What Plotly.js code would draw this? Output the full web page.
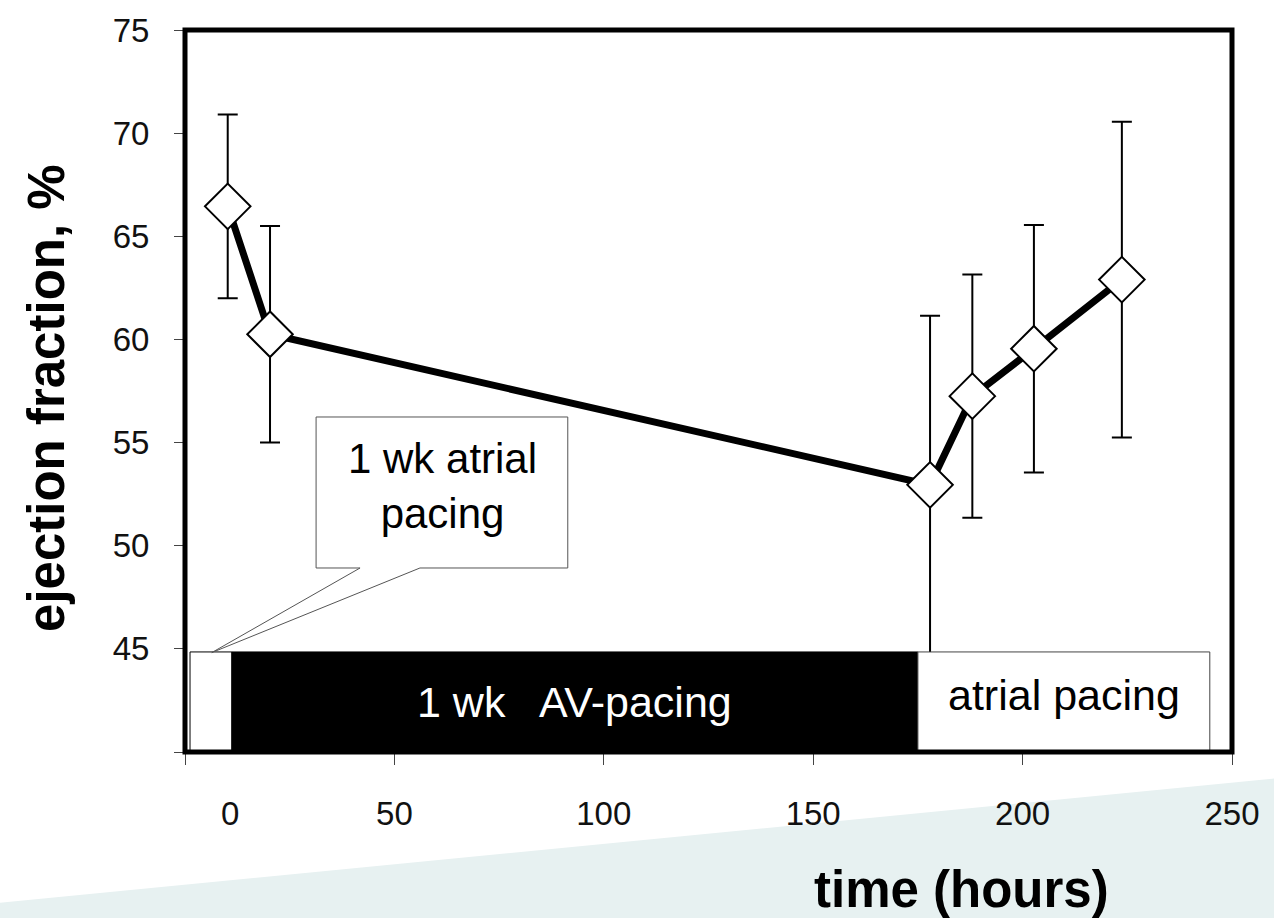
<!DOCTYPE html>
<html>
<head>
<meta charset="utf-8">
<script src="https://cdn.plot.ly/plotly-3.0.1.min.js"></script>
<style>
html,body{margin:0;padding:0;background:#fff;}
#chart{width:1274px;height:918px;}
</style>
</head>
<body>
<div id="chart"></div>
<script>
// ---- data ----
const timeHours = [10.2, 20.3, 177.9, 188.0, 202.7, 223.7];
const efMean    = [66.45, 60.25, 52.95, 57.25, 59.55, 62.9];
const efError   = [4.45, 5.25, 8.2, 5.9, 6.0, 7.65];

const xTickVals   = [0, 50, 100, 150, 200, 250];
const xTickLabels = ['', '50', '100', '150', '200', '250'];
const yTickVals   = [40, 45, 50, 55, 60, 65, 70, 75];
const yTickLabels = ['', '45', '50', '55', '60', '65', '70', '75'];

// pacing phases (hours)
const phaseStart  = [1.2, 11.2, 175.0];
const phaseEnd    = [11.2, 175.0, 244.7];
const phaseLabels = ['', '1 wk   AV-pacing', 'atrial pacing'];

const calloutText = '1 wk atrial<br>pacing';
const xTitle = 'time (hours)';
const yTitle = 'ejection fraction, %';
const zeroLabel = '0';

// ---- layout ----
const FONT = 'Liberation Sans, Arial, sans-serif';
const W = 1274, H = 918;
const margin = {l: 185, r: 42, t: 30, b: 166};
const barTop = 44.85;

const phaseFill = ['#ffffff', '#000000', '#ffffff'];
const phaseLine = ['#000000', '#000000', '#444444'];
const phaseTextColor = ['#000', '#ffffff', '#000000'];

const shapes = [];
// slide background band
shapes.push({
  type: 'path', xref: 'paper', yref: 'paper', layer: 'below',
  path: 'M -0.18,-0.2091 L 1.045,-0.036 L 1.045,-0.235 L -0.18,-0.235 Z',
  fillcolor: '#e7f1f1', line: {width: 0}
});
// pacing phase boxes
phaseStart.forEach((s, i) => {
  shapes.push({
    type: 'rect', xref: 'x', yref: 'y', layer: 'above',
    x0: s, x1: phaseEnd[i], y0: 40, y1: barTop,
    fillcolor: phaseFill[i], line: {color: phaseLine[i], width: 1}
  });
});
// callout for the first week of atrial pacing
shapes.push({
  type: 'path', xref: 'x', yref: 'y', layer: 'above',
  path: 'M 41.8,48.92 L 31.3,48.92 L 31.3,56.24 L 91.4,56.24 L 91.4,48.92 L 56.1,48.92 L 6.4,44.82 Z',
  fillcolor: '#ffffff', line: {color: '#555555', width: 1}
});
// thick frame
shapes.push({
  type: 'rect', xref: 'paper', yref: 'paper', layer: 'above',
  x0: 0, x1: 1, y0: 0, y1: 1,
  line: {color: '#000000', width: 5}, fillcolor: 'rgba(0,0,0,0)'
});

const annotations = [];
phaseLabels.forEach((t, i) => {
  if (!t) return;
  annotations.push({
    xref: 'x', yref: 'y', x: (phaseStart[i] + phaseEnd[i]) / 2, y: i === 2 ? 42.75 : 42.4,
    xanchor: 'center', yanchor: 'middle',
    text: t, showarrow: false,
    font: {family: FONT, size: 43, color: phaseTextColor[i]}
  });
});
annotations.push({
  xref: 'x', yref: 'y', x: 61.4, y: 52.9, xanchor: 'center', yanchor: 'middle',
  text: calloutText, showarrow: false,
  font: {family: FONT, size: 42, color: '#000'}
});
annotations.push({
  xref: 'x', yref: 'paper', x: 10.7, y: -0.085, xanchor: 'center', yanchor: 'middle',
  text: zeroLabel, showarrow: false,
  font: {family: FONT, size: 33, color: '#111'}
});
annotations.push({
  xref: 'paper', yref: 'paper', x: 0.742, y: -0.191, xanchor: 'center', yanchor: 'middle',
  text: '<b>' + xTitle + '</b>', showarrow: false,
  font: {family: FONT, size: 51, color: '#000'}
});
annotations.push({
  xref: 'paper', yref: 'paper', x: -0.133, y: 0.49, xanchor: 'center', yanchor: 'middle',
  textangle: -90, text: '<b>' + yTitle + '</b>', showarrow: false,
  font: {family: FONT, size: 51, color: '#000'}
});

const trace = {
  x: timeHours, y: efMean, type: 'scatter', mode: 'lines+markers',
  line: {color: '#000', width: 7},
  marker: {symbol: 'diamond', size: 35, color: '#fff', line: {color: '#000', width: 2}},
  error_y: {type: 'data', array: efError, visible: true, color: '#000', thickness: 2, width: 10},
  cliponaxis: false, hoverinfo: 'x+y'
};

const layout = {
  width: W, height: H, margin: margin,
  paper_bgcolor: '#ffffff', plot_bgcolor: '#ffffff',
  showlegend: false,
  font: {family: FONT, color: '#111'},
  xaxis: {
    range: [0, 250], tickmode: 'array', tickvals: xTickVals, ticktext: xTickLabels,
    ticks: 'outside', ticklen: 12, tickwidth: 1, tickcolor: '#444',
    tickfont: {family: FONT, size: 33, color: '#111'}, ticklabelstandoff: 20,
    showgrid: false, zeroline: false, showline: false, fixedrange: true
  },
  yaxis: {
    range: [40, 75], tickmode: 'array', tickvals: yTickVals, ticktext: yTickLabels,
    ticks: 'outside', ticklen: 10, tickwidth: 1, tickcolor: '#444',
    tickfont: {family: FONT, size: 33, color: '#111'}, ticklabelstandoff: 18,
    showgrid: false, zeroline: false, showline: false, fixedrange: true
  },
  shapes: shapes,
  annotations: annotations
};

Plotly.newPlot('chart', [trace], layout, {displayModeBar: false, staticPlot: true});
</script>
</body>
</html>
